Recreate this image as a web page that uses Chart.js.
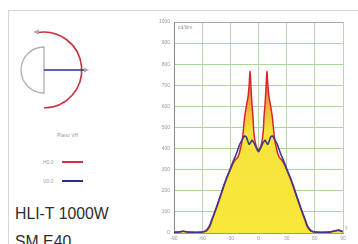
<!DOCTYPE html>
<html><head><meta charset="utf-8">
<script src="https://cdn.jsdelivr.net/npm/chart.js@4"></script>
<style>
html,body{margin:0;padding:0;background:#fff;width:358px;height:244px;overflow:hidden;}
#wrap{position:relative;width:358px;height:244px;}
#frame{position:absolute;left:8px;top:10px;width:360px;height:250px;border-left:1px solid #d4d4d4;border-top:1px solid #d4d4d4;}
canvas#c{position:absolute;left:0;top:0;}
.t{position:absolute;font-family:"Liberation Sans",Arial,sans-serif;color:#999;font-size:5px;white-space:nowrap;}
.name{position:absolute;left:15px;font-family:"Liberation Sans",Arial,sans-serif;font-size:17px;line-height:17px;color:#2e2e2e;transform:scaleX(0.93);transform-origin:0 0;white-space:nowrap;}
svg{position:absolute;left:0;top:0;}
</style></head>
<body><div id="wrap">
<div id="frame"></div>
<svg width="130" height="120">
  <path d="M44 47 A23 23 0 0 0 44 93 Z" fill="none" stroke="#b0b0b0" stroke-width="1.3"/>
  <path d="M37 32.6 A38 38 0 1 1 44 108" fill="none" stroke="#cc3040" stroke-width="1.6"/>
  <path d="M33 32 L39 29.5 L39 34.5 Z" fill="#aaa"/>
  <line x1="44" y1="70" x2="84" y2="70" stroke="#2a2f8c" stroke-width="1.3"/>
  <path d="M84 67.5 L89 70 L84 72.5 Z" fill="#aaa"/>
</svg>
<div class="t" style="left:57px;top:132px;">Piano VH</div>
<div class="t" style="left:43px;top:159px;">H0.0</div>
<div style="position:absolute;left:62px;top:161px;width:21px;height:1.5px;background:#d23040;"></div>
<div class="t" style="left:43px;top:178px;">V0.0</div>
<div style="position:absolute;left:62px;top:180px;width:21px;height:1.5px;background:#2a2f8c;"></div>
<div class="name" style="top:205px;">HLI-T 1000W</div>
<div class="name" style="top:233px;">SM E40</div>
<canvas id="c" width="358" height="244"></canvas>
</div>
<script>
const angles = [-90,-85,-80,-75,-70,-65,-60,-57,-55,-52,-50,-45,-40,-35,-30,-27,-25,-22,-20,-17,-15,-13,-11,-10,-9,-8,-7,-6,-5,-3,0,
                3,5,6,7,8,9,10,11,13,15,17,20,22,25,27,30,35,40,45,50,52,55,57,60,65,70,75,80,85,90];
const redValues = [3,5,8,4,3,3,5,7,12,30,55,115,180,245,300,330,345,360,385,450,540,600,650,700,765,690,610,560,480,420,390,
                   420,480,560,610,690,765,700,650,600,540,450,385,360,345,330,300,245,180,115,55,30,12,7,5,3,3,4,8,12,6];
const blueValues = [3,5,8,4,3,3,5,8,15,35,60,120,185,250,305,340,360,395,420,445,460,455,430,420,425,432,440,435,430,410,385,
                    410,430,435,440,432,425,420,430,455,460,445,420,395,360,340,305,250,185,120,60,35,15,8,5,3,3,4,8,14,6];
const xTicks = [-90,-60,-30,0,30,60,90];
const yMax = 1000, yStep = 100;

const pts = (vals) => angles.map((a,i)=>({x:a,y:vals[i]}));

const extras = {
  id:'extras',
  afterDraw(chart){
    const {ctx, chartArea:a} = chart;
    ctx.save();
    ctx.font = '5px "Liberation Sans", Arial, sans-serif';
    ctx.fillStyle = '#999';
    ctx.textBaseline = 'top';
    ctx.fillText('cd/klm', a.left+4, a.top+3);
    ctx.fillText('γ', a.right+2, a.bottom-8);
    ctx.restore();
  }
};

new Chart(document.getElementById('c'), {
  type:'line',
  data:{
    datasets:[
      {label:'V0.0', data:pts(blueValues), borderColor:'#3a3a8e', borderWidth:1.6, pointRadius:0, fill:false, tension:0.2},
      {label:'H0.0', data:pts(redValues), borderColor:'#d8262f', borderWidth:1.5, pointRadius:0, tension:0.2,
       fill:'origin',
       backgroundColor:(ctx)=>{
         const ch = ctx.chart; const ys = ch.scales.y;
         if(!ys || !ch.chartArea) return '#f6e84a';
         const g = ch.ctx.createLinearGradient(0, ys.getPixelForValue(0), 0, ys.getPixelForValue(800));
         g.addColorStop(0,'#f7e83a');
         g.addColorStop(0.6,'#f7e33c');
         g.addColorStop(0.75,'#f2b43c');
         g.addColorStop(1,'#e4503a');
         return g;
       }}
    ]
  },
  options:{
    responsive:false, animation:false,
    layout:{padding:{left:150,top:22,right:15,bottom:0}},
    plugins:{legend:{display:false}, tooltip:{enabled:false}},
    scales:{
      x:{type:'linear', min:-90, max:90,
         afterBuildTicks:(s)=>{s.ticks = xTicks.map(v=>({value:v}));},
         afterFit:(s)=>{s.height = 11;},
         grid:{color:'#b5d8a8', lineWidth:1, drawTicks:false},
         border:{color:'#9a9a9a'},
         ticks:{font:{size:5, family:'"Liberation Sans", Arial'}, color:'#999', padding:3, maxRotation:0, autoSkip:false,
                callback:(v)=>String(v)}},
      y:{min:0, max:yMax,
         ticks:{stepSize:yStep, font:{size:5, family:'"Liberation Sans", Arial'}, color:'#999', padding:4,
                callback:(v)=>String(v)},
         afterFit:(s)=>{s.width = 24;},
         grid:{color:(c)=> c.tick && c.tick.value===yMax ? '#aaa' : '#a8d89a', lineWidth:1, drawTicks:false},
         border:{color:'#888'}}
    }
  },
  plugins:[extras]
});
</script>
</body></html>
